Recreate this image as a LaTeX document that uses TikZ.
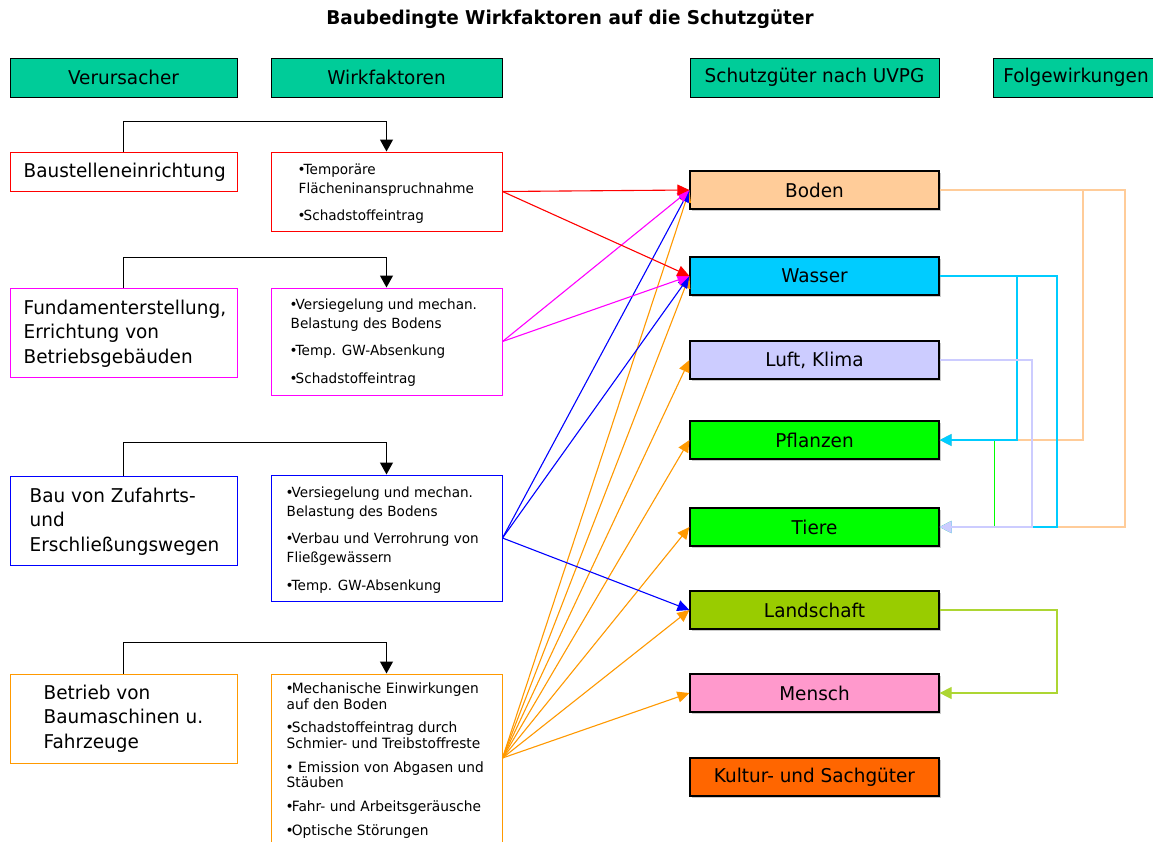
\documentclass[tikz,border=0pt]{standalone}
\usepackage{fontspec}
\setmainfont{DejaVu Sans}[FakeStretch=0.97]
\usetikzlibrary{arrows.meta,shadows}

\definecolor{hdrgreen}{HTML}{00CC99}
\definecolor{cRed}{HTML}{FF0000}
\definecolor{cMag}{HTML}{FF00FF}
\definecolor{cBlue}{HTML}{0000FF}
\definecolor{cOrange}{HTML}{FF9900}
\definecolor{fBoden}{HTML}{FFCC99}
\definecolor{fWasser}{HTML}{00CCFF}
\definecolor{fLuft}{HTML}{CCCCFF}
\definecolor{fGreen}{HTML}{00FF00}
\definecolor{fLand}{HTML}{99CC00}
\definecolor{fMensch}{HTML}{FF99CC}
\definecolor{fKultur}{HTML}{FF6600}

% tight list bullet
\newcommand{\wbul}{\kern-1pt•\kern-2pt}

\begin{document}
\begin{tikzpicture}[x=1pt,y=-1pt,
  hdr/.style={draw=black, line width=1pt, fill=hdrgreen, inner sep=0pt,
    minimum height=39pt, font=\fontsize{19}{21}\selectfont},
  causebox/.style={draw=#1, line width=1pt, minimum width=227pt, inner sep=0pt},
  wfbox/.style={draw=#1, line width=1pt, minimum width=231pt, inner sep=0pt},
  causetext/.style={anchor=west, inner sep=0pt, align=left,
    font=\fontsize{19}{24.5}\selectfont},
  wftext/.style={anchor=north west, inner sep=0pt, align=left,
    font=\fontsize{14}{18.8}\selectfont},
  sgbox/.style={draw=black, line width=1.2pt, fill=#1, minimum width=249pt,
    minimum height=38pt, inner sep=0pt, font=\fontsize{19}{21}\selectfont,
    drop shadow={shadow xshift=1.5pt, shadow yshift=-1.5pt, fill=black!40}},
  link/.style={draw=black, line width=1.1pt, -{Triangle[length=12pt,width=13pt]}},
  effect/.style={draw=#1, line width=1.1pt, -{Triangle[length=12pt,width=11pt]}},
  feedback/.style={draw=#1, line width=1.1pt, -{Triangle[length=12pt,width=12pt]}}
]
\useasboundingbox (0,0) rectangle (1153,841);
\clip (0,0) rectangle (1153,841);
\fill[white] (0,0) rectangle (1153,841);

% title
\node[font=\bfseries\fontsize{19}{22}\selectfont] (title) at (570,19.5)
  {Baubedingte Wirkfaktoren auf die Schutzgüter};

% column headers
\node[hdr, minimum width=227pt] (hVer) at (123.5,77.5) {Verursacher};
\node[hdr, minimum width=231pt] (hWirk) at (386.5,77.5) {Wirkfaktoren};
\node[hdr, minimum width=249pt] (hSchutz) at (814.5,77.5) {Schutzgüter nach UVPG};
\node[hdr, minimum width=166pt] (hFolge) at (1076,77.5) {Folgewirkungen};

% causes
\node[causebox=cRed, minimum height=39pt] (c1) at (123.5,171.5) {};
\node[causebox=cMag, minimum height=89pt] (c2) at (123.5,332.5) {};
\node[causebox=cBlue, minimum height=89pt] (c3) at (123.5,520.5) {};
\node[causebox=cOrange, minimum height=89pt] (c4) at (123.5,718.5) {};
\node[causetext] (c1t) at ([xshift=14pt,yshift=-1pt]c1.west) {Baustelleneinrichtung};
\node[causetext] (c2t) at ([xshift=14pt,yshift=-1pt]c2.west)
  {Fundamenterstellung,\\Errichtung von\\Betriebsgebäuden};
\node[causetext] (c3t) at ([xshift=20pt,yshift=-1pt]c3.west)
  {Bau von Zufahrts-\\und\\Erschließungswegen};
\node[causetext] (c4t) at ([xshift=34pt]c4.west)
  {Betrieb von\\Baumaschinen u.\\Fahrzeuge};

% impact factors
\node[wfbox=cRed, minimum height=79pt] (w1) at (386.5,191.5) {};
\node[wfbox=cMag, minimum height=107pt] (w2) at (386.5,341.5) {};
\node[wfbox=cBlue, minimum height=126pt] (w3) at (386.5,538) {};
\node[wfbox=cOrange, minimum height=168pt] (w4) at (386.5,758) {};
\node[wftext] (w1t) at ([shift={(28,12)}]w1.north west)
  {\wbul Temporäre\\Flächeninanspruchnahme\\[9pt]\wbul Schadstoffeintrag};
\node[wftext] (w2t) at ([shift={(20,11)}]w2.north west)
  {\wbul Versiegelung und mechan.\\Belastung des Bodens\\[9pt]\wbul Temp. GW-Absenkung\\[9pt]\wbul Schadstoffeintrag};
\node[wftext] (w3t) at ([shift={(16,12)}]w3.north west)
  {\wbul Versiegelung und mechan.\\Belastung des Bodens\\[9pt]\wbul Verbau und Verrohrung von\\Fließgewässern\\[9pt]\wbul Temp. GW-Absenkung};
\node[wftext, font=\fontsize{14.2}{15.5}\selectfont] (w4t) at ([shift={(16,9)}]w4.north west)
  {\wbul Mechanische Einwirkungen\\auf den Boden\\[8pt]\wbul Schadstoffeintrag durch\\Schmier- und Treibstoffreste\\[8.5pt]\wbul\kern2pt{} Emission von Abgasen und\\Stäuben\\[8pt]\wbul Fahr- und Arbeitsgeräusche\\[8.5pt]\wbul Optische Störungen};

% cause -> impact factor
\draw[link] (c1.north) -- ++(0,-30) -| (w1.north);
\draw[link] (c2.north) -- ++(0,-30) -| (w2.north);
\draw[link] (c3.north) -- ++(0,-33) -| (w3.north);
\draw[link] (c4.north) -- ++(0,-31) -| (w4.north);

% protected goods
\node[sgbox=fBoden] (boden) at (814.5,190) {Boden};
\node[sgbox=fWasser] (wasser) at (814.5,276) {Wasser};
\node[sgbox=fLuft] (luft) at (814.5,360) {Luft, Klima};
\node[sgbox=fGreen] (pflanzen) at (814.5,440) {Pflanzen};
\node[sgbox=fGreen] (tiere) at (814.5,527) {Tiere};
\node[sgbox=fLand] (landschaft) at (814.5,610) {Landschaft};
\node[sgbox=fMensch] (mensch) at (814.5,693) {Mensch};
\node[sgbox=fKultur] (kultur) at (814.5,777) {Kultur- und Sachgüter};

% impact factor -> protected goods
\foreach \t in {boden,wasser,luft,pflanzen,tiere,landschaft,mensch}
  \draw[effect=cOrange] (w4.east) -- (\t.west);
\foreach \t in {boden,wasser,landschaft}
  \draw[effect=cBlue] (w3.east) -- (\t.west);
\foreach \t in {boden,wasser}
  \draw[effect=cMag] (w2.east) -- (\t.west);
\foreach \t in {boden,wasser}
  \draw[effect=cRed] (w1.east) -- (\t.west);

% secondary effects
\coordinate (bA) at (1083,190);
\coordinate (bB) at (1125,190);
\coordinate (wA) at (1017,276);
\coordinate (wB) at (1057,276);
\coordinate (lA) at (1032,360);
\coordinate (pA) at (994,440);
\coordinate (gA) at (1057,610);
\draw[feedback=fGreen, line width=0.9pt] (pflanzen.east) -- (pA) |- (tiere.east);
\draw[feedback=fBoden] (boden.east) -- (bA) |- (pflanzen.east);
\draw[feedback=fBoden] (bA) -- (bB) |- (tiere.east);
\draw[feedback=fWasser] (wasser.east) -- (wA) |- (pflanzen.east);
\draw[feedback=fWasser] (wA) -- (wB) |- (tiere.east);
\draw[feedback=fLuft] (luft.east) -- (lA) |- (tiere.east);
\draw[feedback=fLand!80!white] (landschaft.east) -- (gA) |- (mensch.east);
\end{tikzpicture}
\end{document}
